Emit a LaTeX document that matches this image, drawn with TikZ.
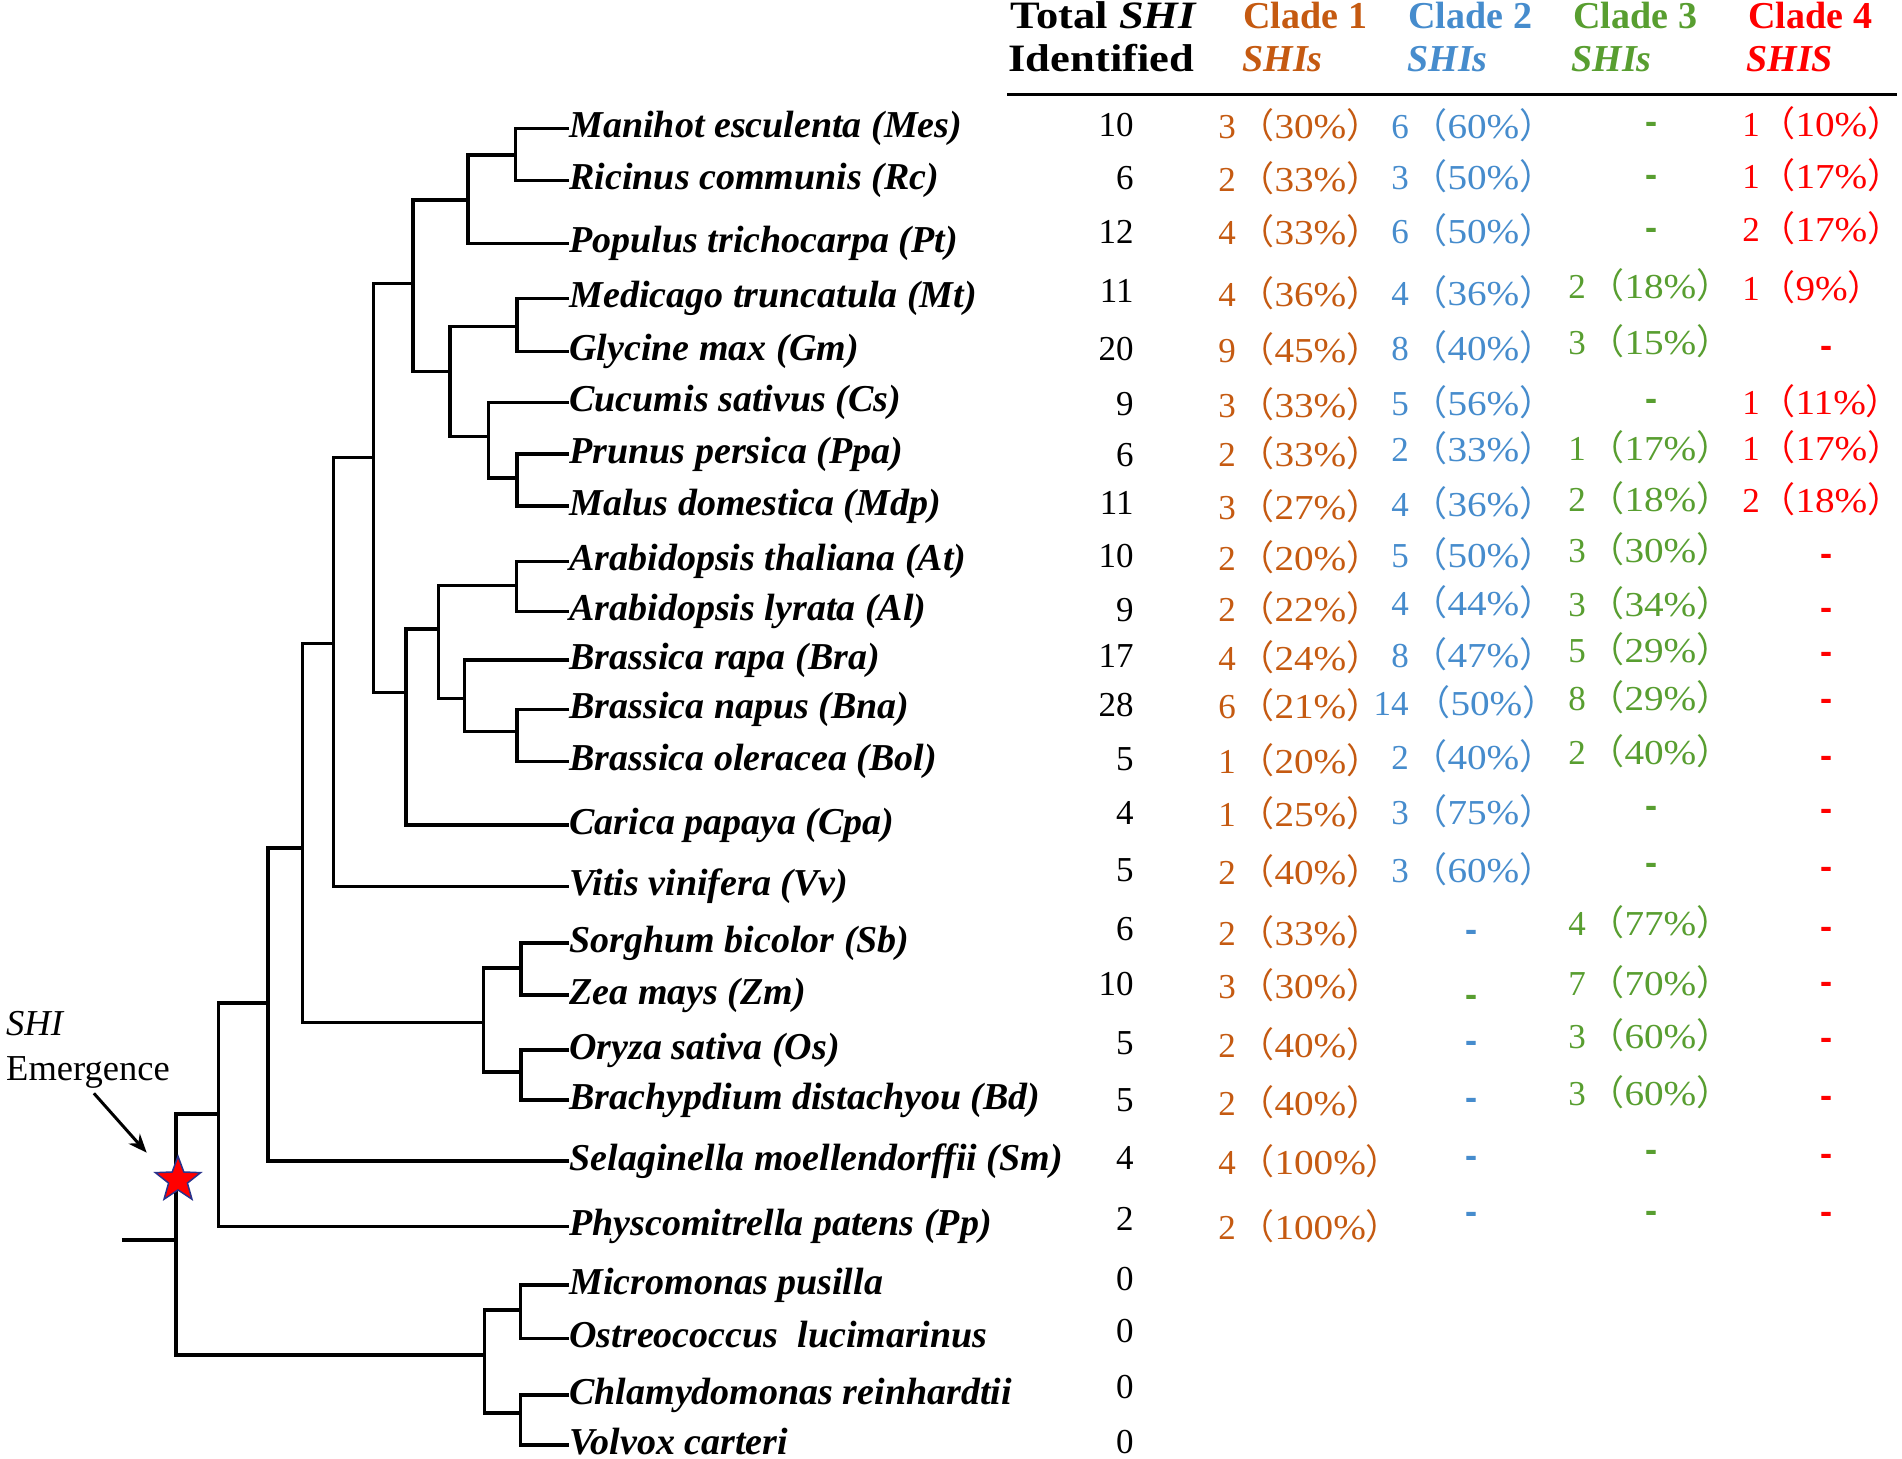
\documentclass[tikz,border=0pt]{standalone}
\usepackage{fontspec}
\setmainfont{Liberation Serif}
\newfontfamily\cjk{Noto Sans CJK SC}
\newfontfamily\dashfont[RawFeature={embolden=3}]{Liberation Serif}
\usetikzlibrary{arrows.meta,shapes.geometric}
\definecolor{cA}{RGB}{197,90,17}
\definecolor{cB}{RGB}{70,140,205}
\definecolor{cC}{RGB}{88,158,48}
\definecolor{cD}{RGB}{255,0,0}
\definecolor{starblue}{RGB}{40,50,140}
\newcommand\LP{\makebox[0.4em][r]{\cjk （}}
\newcommand\RP{\makebox[0.4em][l]{\cjk ）}}
\newcommand\pct[1]{\LP\scalebox{1.12}[1]{#1\%}\RP}
\tikzset{
 tree/.style={line width=1.4pt, line join=miter},
 sp/.style={font=\fontsize{15.2}{18}\selectfont\bfseries\itshape, anchor=west, inner sep=0pt, text height=10.6pt, text depth=3.3pt},
 num/.style={font=\fontsize{14}{17}\selectfont, inner sep=0pt, text height=9.5pt, text depth=0pt},
 cnt/.style={num, anchor=east},
 dsh/.style={font=\fontsize{14}{17}\selectfont\dashfont\bfseries, inner sep=0pt, anchor=base},
 hdr/.style={font=\fontsize{15.2}{18}\selectfont\bfseries, anchor=base west, inner sep=0pt},
 hdrbig/.style={font=\fontsize{15.5}{18}\selectfont\bfseries, anchor=base west, inner sep=0pt},
}
\newcommand\cent[6]{%
 \node[num,text=#2] (#1d) at (#3,#4) {#5};
 \node[num,text=#2,anchor=west] (#1p) at ({#3+33},#4) {\pct{#6}};}
\newcommand\centR[6]{%
 \node[num,text=#2] (#1d) at (#3,#4) {#5};
 \node[num,text=#2,anchor=west] (#1p) at ({#3+30},#4) {\pct{#6}};}
\newcommand\cdash[4]{\node[dsh,text=#2] (#1) at (#3,{#4+8}) {\scalebox{0.9}[1]{-}};}
\newcommand\clade[3]{\draw[tree] (#2) -- (#1|-#2) -- (#1|-#3) -- (#3);}
\begin{document}
\begin{tikzpicture}[x=0.4pt,y=-0.4pt]
\fill[white] (0,0) rectangle (1902,1459);
\useasboundingbox (0,0) rectangle (1902,1459);

% species names
\node[sp] (tMes) at (569,128.3) {Manihot esculenta (Mes)};
\node[sp] (tRc) at (569,180.7) {Ricinus communis (Rc)};
\node[sp] (tPt) at (569,243.3) {Populus trichocarpa (Pt)};
\node[sp] (tMt) at (569,298.3) {Medicago truncatula (Mt)};
\node[sp] (tGm) at (569,351.7) {Glycine max (Gm)};
\node[sp] (tCs) at (569,402.7) {Cucumis sativus (Cs)};
\node[sp] (tPpa) at (569,454) {Prunus persica (Ppa)};
\node[sp] (tMdp) at (569,506) {Malus domestica (Mdp)};
\node[sp] (tAt) at (569,561.7) {Arabidopsis thaliana (At)};
\node[sp] (tAl) at (569,611.7) {Arabidopsis lyrata (Al)};
\node[sp] (tBra) at (569,660) {Brassica rapa (Bra)};
\node[sp] (tBna) at (569,709.3) {Brassica napus (Bna)};
\node[sp] (tBol) at (569,761.7) {Brassica oleracea (Bol)};
\node[sp] (tCpa) at (569,825) {Carica papaya (Cpa)};
\node[sp] (tVv) at (569,886.7) {Vitis vinifera (Vv)};
\node[sp] (tSb) at (569,943) {Sorghum bicolor (Sb)};
\node[sp] (tZm) at (569,995) {Zea mays (Zm)};
\node[sp] (tOs) at (569,1050) {Oryza sativa (Os)};
\node[sp] (tBd) at (569,1100) {Brachypdium distachyou (Bd)};
\node[sp] (tSm) at (569,1161) {Selaginella moellendorffii (Sm)};
\node[sp] (tPp) at (569,1226.7) {Physcomitrella patens (Pp)};
\node[sp] (tMp) at (569,1285) {Micromonas pusilla};
\node[sp] (tOl) at (569,1338.3) {Ostreococcus \ lucimarinus};
\node[sp] (tCr) at (569,1395) {Chlamydomonas reinhardtii};
\node[sp] (tVc) at (569,1445) {Volvox carteri};

% internal nodes
\coordinate (nA) at (515.3,155);
\coordinate (nB) at (468.2,200);
\coordinate (nC) at (413,283.3);
\coordinate (nD) at (517.2,326.7);
\coordinate (nE) at (517.2,478);
\coordinate (nF) at (488.5,436.7);
\coordinate (nG) at (450.2,371.7);
\coordinate (nH) at (373.6,457.3);
\coordinate (nI) at (516.5,585.7);
\coordinate (nJ) at (517.2,731.7);
\coordinate (nK) at (464.4,698.3);
\coordinate (nL) at (438.7,629);
\coordinate (nM) at (406.1,692.7);
\coordinate (nN) at (333.3,643.3);
\coordinate (nO) at (302.7,848);
\coordinate (nP) at (483.5,1022.7);
\coordinate (nQ) at (521,968);
\coordinate (nR) at (521,1072);
\coordinate (nS) at (268.2,1003);
\coordinate (nT) at (218.4,1114);
\coordinate (nU) at (176.2,1240);
\coordinate (nV) at (520.3,1310);
\coordinate (nW) at (520.3,1413);
\coordinate (nX) at (484.7,1355);
\coordinate (stub) at (121.8,1240);

\clade{nA}{tMes.west}{tRc.west}
\clade{nB}{nA}{tPt.west}
\clade{nD}{tMt.west}{tGm.west}
\clade{nE}{tPpa.west}{tMdp.west}
\clade{nF}{tCs.west}{nE}
\clade{nG}{nD}{nF}
\clade{nC}{nB}{nG}
\clade{nI}{tAt.west}{tAl.west}
\clade{nJ}{tBna.west}{tBol.west}
\clade{nK}{tBra.west}{nJ}
\clade{nL}{nI}{nK}
\clade{nM}{nL}{tCpa.west}
\clade{nH}{nC}{nM}
\clade{nN}{nH}{tVv.west}
\clade{nQ}{tSb.west}{tZm.west}
\clade{nR}{tOs.west}{tBd.west}
\clade{nP}{nQ}{nR}
\clade{nO}{nN}{nP}
\clade{nS}{nO}{tSm.west}
\clade{nT}{nS}{tPp.west}
\clade{nV}{tMp.west}{tOl.west}
\clade{nW}{tCr.west}{tVc.west}
\clade{nX}{nV}{nW}
\clade{nU}{nT}{nX}
\draw[tree] (stub) -- (nU);

% emergence
\node[font=\fontsize{14.6}{17}\selectfont\itshape, anchor=base west, inner sep=0pt] (shi) at (5.7,1035) {SHI};
\node[font=\fontsize{14.6}{17}\selectfont, anchor=base west, inner sep=0pt] (emg) at (5.7,1080) {Emergence};
\coordinate (arrS) at (93.9,1093.3);
\coordinate (arrE) at (146.7,1152.7);
\draw[line width=1.2pt, -{Stealth[length=7.5pt,width=6pt]}] (arrS) -- (arrE);
\node[star, star points=5, star point ratio=2.4, minimum size=19pt, inner sep=0pt, fill=red, draw=starblue, line width=0.6pt] (star) at (178,1180) {};

% header
\node[hdrbig] (h0a) at (1010,28.3) {\scalebox{1.15}[1]{Total \textit{SHI}}};
\node[hdrbig] (h0b) at (1008,71.7) {\scalebox{1.15}[1]{Identified}};
\node[hdr,text=cA] (h1a) at (1243,28.3) {Clade 1};
\node[hdr,text=cA] (h1b) at (1242,71.7) {\textit{SHIs}};
\node[hdr,text=cB] (h2a) at (1408,28.3) {Clade 2};
\node[hdr,text=cB] (h2b) at (1407,71.7) {\textit{SHIs}};
\node[hdr,text=cC] (h3a) at (1573,28.3) {Clade 3};
\node[hdr,text=cC] (h3b) at (1571,71.7) {\textit{SHIs}};
\node[hdr,text=cD] (h4a) at (1748,28.3) {Clade 4};
\node[hdr,text=cD] (h4b) at (1746,71.7) {\textit{SHIS}};
\coordinate (ruleL) at (1007,95);
\coordinate (ruleR) at (1897,95);
\draw[line width=1.2pt] (ruleL) -- (ruleR);

% totals
\node[cnt] (kMes) at (1134,125) {10};
\node[cnt] (kRc) at (1134,178) {6};
\node[cnt] (kPt) at (1134,232) {12};
\node[cnt] (kMt) at (1134,291) {11};
\node[cnt] (kGm) at (1134,349) {20};
\node[cnt] (kCs) at (1134,404) {9};
\node[cnt] (kPpa) at (1134,455) {6};
\node[cnt] (kMdp) at (1134,503) {11};
\node[cnt] (kAt) at (1134,556) {10};
\node[cnt] (kAl) at (1134,610) {9};
\node[cnt] (kBra) at (1134,656) {17};
\node[cnt] (kBna) at (1134,705) {28};
\node[cnt] (kBol) at (1134,759) {5};
\node[cnt] (kCpa) at (1134,813) {4};
\node[cnt] (kVv) at (1134,870) {5};
\node[cnt] (kSb) at (1134,929) {6};
\node[cnt] (kZm) at (1134,984) {10};
\node[cnt] (kOs) at (1134,1043) {5};
\node[cnt] (kBd) at (1134,1100) {5};
\node[cnt] (kSm) at (1134,1158) {4};
\node[cnt] (kPp) at (1134,1219) {2};
\node[cnt] (kMp) at (1134,1279) {0};
\node[cnt] (kOl) at (1134,1331) {0};
\node[cnt] (kCr) at (1134,1387) {0};
\node[cnt] (kVc) at (1134,1442) {0};

% clade 1
\cent{aMes}{cA}{1227}{127}{3}{30}
\cent{aRc}{cA}{1227}{180}{2}{33}
\cent{aPt}{cA}{1227}{233}{4}{33}
\cent{aMt}{cA}{1227}{295}{4}{36}
\cent{aGm}{cA}{1227}{351}{9}{45}
\cent{aCs}{cA}{1227}{406}{3}{33}
\cent{aPpa}{cA}{1227}{455}{2}{33}
\cent{aMdp}{cA}{1227}{508}{3}{27}
\cent{aAt}{cA}{1227}{559}{2}{20}
\cent{aAl}{cA}{1227}{610}{2}{22}
\cent{aBra}{cA}{1227}{659}{4}{24}
\cent{aBna}{cA}{1227}{707}{6}{21}
\cent{aBol}{cA}{1227}{762}{1}{20}
\cent{aCpa}{cA}{1227}{815}{1}{25}
\cent{aVv}{cA}{1227}{873}{2}{40}
\cent{aSb}{cA}{1227}{934}{2}{33}
\cent{aZm}{cA}{1227}{987}{3}{30}
\cent{aOs}{cA}{1227}{1046}{2}{40}
\cent{aBd}{cA}{1227}{1104}{2}{40}
\cent{aSm}{cA}{1227}{1163}{4}{100}
\cent{aPp}{cA}{1227}{1228}{2}{100}

% clade 2
\cent{bMes}{cB}{1400}{127}{6}{60}
\cent{bRc}{cB}{1400}{178}{3}{50}
\cent{bPt}{cB}{1400}{232}{6}{50}
\cent{bMt}{cB}{1400}{294}{4}{36}
\cent{bGm}{cB}{1400}{349}{8}{40}
\cent{bCs}{cB}{1400}{404}{5}{56}
\cent{bPpa}{cB}{1400}{450}{2}{33}
\cent{bMdp}{cB}{1400}{505}{4}{36}
\cent{bAt}{cB}{1400}{556}{5}{50}
\cent{bAl}{cB}{1400}{604}{4}{44}
\cent{bBra}{cB}{1400}{656}{8}{47}
\node[num,text=cB] (bBnad) at (1391,704) {14};
\node[num,text=cB,anchor=west] (bBnap) at (1436,704) {\pct{50}};
\cent{bBol}{cB}{1400}{758}{2}{40}
\cent{bCpa}{cB}{1400}{813}{3}{75}
\cent{bVv}{cB}{1400}{871}{3}{60}
\cdash{bSb}{cB}{1471}{932}
\cdash{bZm}{cC}{1471}{997}
\cdash{bOs}{cB}{1471}{1043}
\cdash{bBd}{cB}{1471}{1100}
\cdash{bSm}{cB}{1471}{1158}
\cdash{bPp}{cB}{1471}{1214}

% clade 3
\cdash{cMes}{cC}{1651}{124}
\cdash{cRc}{cC}{1651}{177}
\cdash{cPt}{cC}{1651}{230}
\cent{cMt}{cC}{1577}{287}{2}{18}
\cent{cGm}{cC}{1577}{343}{3}{15}
\cdash{cCs}{cC}{1651}{401}
\cent{cPpa}{cC}{1577}{449}{1}{17}
\cent{cMdp}{cC}{1577}{500}{2}{18}
\cent{cAt}{cC}{1577}{551}{3}{30}
\cent{cAl}{cC}{1577}{605}{3}{34}
\cent{cBra}{cC}{1577}{651}{5}{29}
\cent{cBna}{cC}{1577}{699}{8}{29}
\cent{cBol}{cC}{1577}{753}{2}{40}
\cdash{cCpa}{cC}{1651}{808}
\cdash{cVv}{cC}{1651}{865}
\cent{cSb}{cC}{1577}{924}{4}{77}
\cent{cZm}{cC}{1577}{984}{7}{70}
\cent{cOs}{cC}{1577}{1037}{3}{60}
\cent{cBd}{cC}{1577}{1094}{3}{60}
\cdash{cSm}{cC}{1651}{1152}
\cdash{cPp}{cC}{1651}{1213}

% clade 4
\centR{dMes}{cD}{1751}{125}{1}{10}
\centR{dRc}{cD}{1751}{177}{1}{17}
\centR{dPt}{cD}{1751}{230}{2}{17}
\centR{dMt}{cD}{1751}{289}{1}{9}
\cdash{dGm}{cD}{1826}{348}
\centR{dCs}{cD}{1751}{403}{1}{11}
\centR{dPpa}{cD}{1751}{449}{1}{17}
\centR{dMdp}{cD}{1751}{501}{2}{18}
\cdash{dAt}{cD}{1826}{556}
\cdash{dAl}{cD}{1826}{610}
\cdash{dBra}{cD}{1826}{654}
\cdash{dBna}{cD}{1826}{701}
\cdash{dBol}{cD}{1826}{758}
\cdash{dCpa}{cD}{1826}{811}
\cdash{dVv}{cD}{1826}{869}
\cdash{dSb}{cD}{1826}{929}
\cdash{dZm}{cD}{1826}{984}
\cdash{dOs}{cD}{1826}{1040}
\cdash{dBd}{cD}{1826}{1098}
\cdash{dSm}{cD}{1826}{1156}
\cdash{dPp}{cD}{1826}{1214}
\end{tikzpicture}
\end{document}
